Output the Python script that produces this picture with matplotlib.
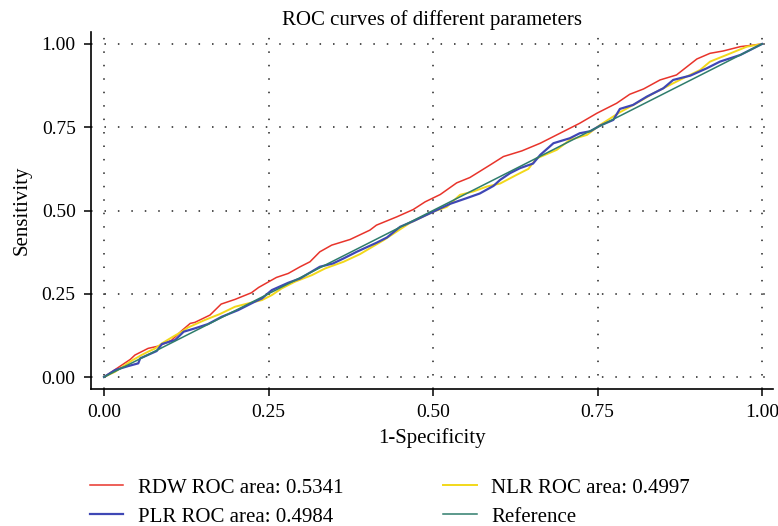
import matplotlib
matplotlib.use("Agg")
import matplotlib.pyplot as plt
import numpy as np

plt.rcParams['font.family'] = ['Liberation Serif', 'DejaVu Serif']

# ROC curves (1-specificity, sensitivity)
rdw_fpr = [0, 0.04, 0.047, 0.067, 0.083, 0.103, 0.118, 0.131, 0.138, 0.161, 0.178, 0.199,
           0.224, 0.235, 0.262, 0.28, 0.298, 0.313, 0.328, 0.346, 0.374, 0.404, 0.414, 0.445,
           0.47, 0.488, 0.511, 0.536, 0.556, 0.587, 0.607, 0.635, 0.663, 0.693, 0.723, 0.749,
           0.779, 0.799, 0.82, 0.845, 0.87, 0.901, 0.921, 0.941, 0.967, 1.0]
rdw_tpr = [0, 0.053, 0.066, 0.086, 0.093, 0.111, 0.139, 0.161, 0.164, 0.186, 0.219, 0.233,
           0.253, 0.269, 0.299, 0.311, 0.331, 0.346, 0.376, 0.396, 0.413, 0.441, 0.456, 0.481,
           0.503, 0.526, 0.548, 0.583, 0.599, 0.637, 0.662, 0.679, 0.702, 0.732, 0.762, 0.792,
           0.822, 0.849, 0.865, 0.892, 0.907, 0.955, 0.972, 0.979, 0.992, 1.0]

plr_fpr = [0, 0.017, 0.037, 0.052, 0.055, 0.072, 0.08, 0.088, 0.108, 0.121, 0.138, 0.158,
           0.179, 0.204, 0.229, 0.24, 0.255, 0.28, 0.298, 0.328, 0.348, 0.364, 0.384, 0.414,
           0.43, 0.45, 0.47, 0.5, 0.526, 0.551, 0.571, 0.592, 0.602, 0.617, 0.632, 0.652,
           0.663, 0.683, 0.708, 0.723, 0.739, 0.754, 0.774, 0.784, 0.804, 0.825, 0.85, 0.865,
           0.891, 0.916, 0.936, 0.967, 1.0]
plr_tpr = [0, 0.021, 0.033, 0.041, 0.056, 0.071, 0.078, 0.099, 0.111, 0.136, 0.146, 0.159,
           0.181, 0.201, 0.226, 0.236, 0.261, 0.283, 0.296, 0.331, 0.341, 0.356, 0.376, 0.403,
           0.419, 0.451, 0.468, 0.496, 0.52, 0.537, 0.551, 0.574, 0.592, 0.612, 0.627, 0.641,
           0.667, 0.702, 0.717, 0.732, 0.738, 0.755, 0.772, 0.805, 0.817, 0.842, 0.867, 0.892,
           0.905, 0.927, 0.947, 0.967, 1.0]

nlr_fpr = [0, 0.017, 0.032, 0.042, 0.057, 0.067, 0.078, 0.088, 0.103, 0.118, 0.128, 0.153,
           0.176, 0.199, 0.219, 0.24, 0.255, 0.27, 0.29, 0.316, 0.336, 0.364, 0.389, 0.425,
           0.465, 0.5, 0.521, 0.541, 0.561, 0.582, 0.602, 0.627, 0.645, 0.657, 0.688, 0.708,
           0.734, 0.754, 0.784, 0.809, 0.835, 0.855, 0.88, 0.906, 0.921, 0.946, 0.977, 1.0]
nlr_tpr = [0, 0.016, 0.036, 0.049, 0.066, 0.076, 0.086, 0.101, 0.119, 0.136, 0.149, 0.171,
           0.189, 0.211, 0.221, 0.231, 0.246, 0.266, 0.286, 0.306, 0.326, 0.346, 0.369, 0.411,
           0.463, 0.496, 0.511, 0.547, 0.557, 0.572, 0.581, 0.607, 0.625, 0.656, 0.682, 0.712,
           0.727, 0.757, 0.795, 0.822, 0.852, 0.872, 0.897, 0.922, 0.947, 0.967, 0.992, 1.0]

labels = ["RDW ROC area: 0.5341", "PLR ROC area: 0.4984",
          "NLR ROC area: 0.4997", "Reference"]

fig = plt.figure(figsize=(7.78, 5.26), dpi=100)
ax = fig.add_axes([91 / 778, 137 / 526, 682 / 778, 357 / 526])

ax.plot(rdw_fpr, rdw_tpr, color='#e8342b', lw=1.1, label=labels[0], zorder=3)
ax.plot(plr_fpr, plr_tpr, color='#3f47b5', lw=1.6, label=labels[1], zorder=4)
ax.plot(nlr_fpr, nlr_tpr, color='#f2d81a', lw=1.4, label=labels[2], zorder=3)
ax.plot([0, 1], [0, 1], color='#2f7d6c', lw=1.1, label=labels[3], zorder=5)

ticks = [0, 0.25, 0.5, 0.75, 1.0]
ax.set_xticks(ticks)
ax.set_yticks(ticks)
ax.set_xticklabels(["%.2f" % t for t in ticks])
ax.set_yticklabels(["%.2f" % t for t in ticks])
ax.set_xlim(-0.0198, 1.0167)
ax.set_ylim(-0.036, 1.036)

for s in ['top', 'right']:
    ax.spines[s].set_visible(False)
for s in ['left', 'bottom']:
    ax.spines[s].set_linewidth(1.2)
ax.tick_params(direction='out', length=5, width=1.1, labelsize=14, pad=6)
ax.grid(True, color='#222222', lw=1.1, linestyle=(0, (1, 7.8)))

ax.set_title("ROC curves of different parameters", fontsize=15, pad=5)
ax.set_xlabel("1-Specificity", fontsize=15, labelpad=5)
ax.set_ylabel("Sensitivity", fontsize=15, labelpad=7)

h, l = ax.get_legend_handles_labels()
fig.legend(h, l, ncol=2,
           loc='upper left', bbox_to_anchor=(90 / 778, 1 - 478 / 526),
           frameon=False, fontsize=15, handlelength=1.6, handletextpad=0.7,
           columnspacing=4.8, labelspacing=0.45, borderpad=0, borderaxespad=0)

fig.savefig("out.png", dpi=100)
